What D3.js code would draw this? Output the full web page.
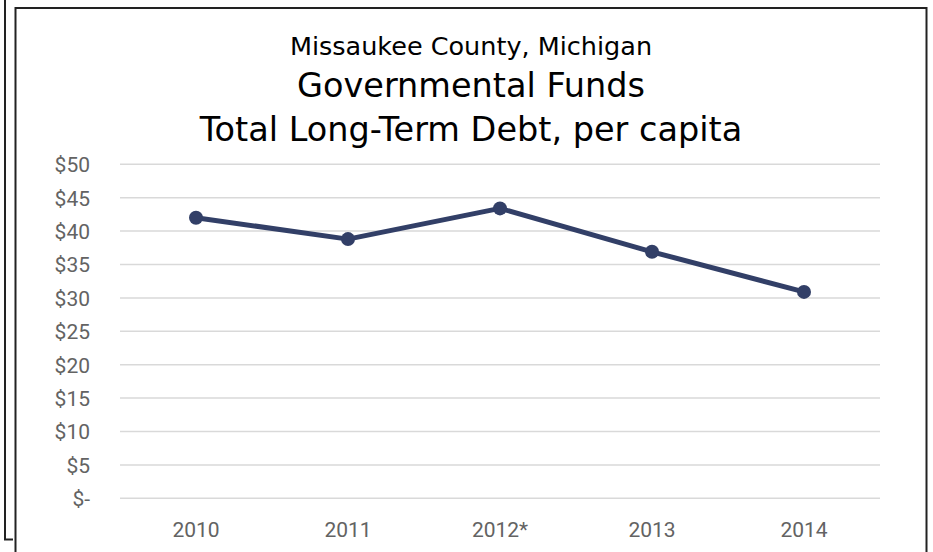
<!DOCTYPE html>
<html>
<head>
<meta charset="utf-8">
<script src="https://cdn.jsdelivr.net/npm/d3@7"></script>
<style>
  body { margin: 0; background: #fff; }
  svg { display: block; }
</style>
</head>
<body>
<div id="chart"></div>
<script>
const years = ["2010", "2011", "2012*", "2013", "2014"];
const debtPerCapita = [42.0, 38.8, 43.4, 36.9, 30.9];
const yTicks = [0, 5, 10, 15, 20, 25, 30, 35, 40, 45, 50];
const titleLines = ["Missaukee County, Michigan", "Governmental Funds", "Total Long-Term Debt, per capita"];

let w = 933;
let h = 552;

let svg = d3
  .select("#chart")
  .append("svg")
  .attr("width", w)
  .attr("height", h);

svg.append("rect").attr("width", w).attr("height", h).attr("fill", "#fff");

// edge of the neighbouring box on the left
svg
  .append("path")
  .attr("d", "M5,0 V539.5 H13")
  .attr("fill", "none")
  .attr("stroke", "#222")
  .attr("stroke-width", 2);

// chart border
svg
  .append("rect")
  .attr("x", 15.5)
  .attr("y", 8)
  .attr("width", 911)
  .attr("height", 560)
  .attr("fill", "#fff")
  .attr("stroke", "#222")
  .attr("stroke-width", 2);

let x = d3.scaleBand().domain(years).range([120, 880]);
let y = d3.scaleLinear().domain([0, 50]).range([498.3, 164.3]);

// gridlines
svg
  .append("g")
  .selectAll("line")
  .data(yTicks)
  .enter()
  .append("line")
  .attr("x1", 120)
  .attr("x2", 880)
  .attr("y1", (d) => y(d))
  .attr("y2", (d) => y(d))
  .attr("stroke", "#d9d9d9")
  .attr("stroke-width", 1.5);

let yAxis = svg
  .append("g")
  .attr("transform", "translate(90,0)")
  .call(
    d3
      .axisLeft(y)
      .tickValues(yTicks)
      .tickSize(0)
      .tickPadding(0)
      .tickFormat((d) => (d === 0 ? "$-" : "$" + d))
  );
yAxis.attr("font-family", "Roboto, sans-serif").attr("font-size", 21);
yAxis.select(".domain").remove();
yAxis.selectAll("text").attr("fill", "#636363").attr("dy", "0.35em");

let xAxis = svg
  .append("g")
  .attr("transform", "translate(0,537)")
  .call(d3.axisBottom(x).tickSize(0).tickPadding(0));
xAxis.attr("font-family", "Roboto, sans-serif").attr("font-size", 21);
xAxis.select(".domain").remove();
xAxis.selectAll("text").attr("fill", "#636363").attr("dy", 0);

let points = years.map((d, i) => ({ year: d, value: debtPerCapita[i] }));

let line = d3
  .line()
  .x((d) => x(d.year) + x.bandwidth() / 2)
  .y((d) => y(d.value));

svg
  .append("path")
  .datum(points)
  .attr("d", line)
  .attr("fill", "none")
  .attr("stroke", "#323f67")
  .attr("stroke-width", 5)
  .attr("stroke-linejoin", "round");

svg
  .append("g")
  .selectAll("circle")
  .data(points)
  .enter()
  .append("circle")
  .attr("cx", (d) => x(d.year) + x.bandwidth() / 2)
  .attr("cy", (d) => y(d.value))
  .attr("r", 7)
  .attr("fill", "#323f67");

// title
let title = svg
  .append("text")
  .attr("text-anchor", "middle")
  .attr("fill", "#000")
  .style("font-family", "'DejaVu Sans', Verdana, sans-serif");

title
  .append("tspan")
  .attr("x", 471)
  .attr("y", 55)
  .style("font-size", "25.5px")
  .text(titleLines[0]);
title
  .append("tspan")
  .attr("x", 471)
  .attr("y", 97)
  .style("font-size", "33.5px")
  .text(titleLines[1]);
title
  .append("tspan")
  .attr("x", 471)
  .attr("y", 141)
  .style("font-size", "33.5px")
  .text(titleLines[2]);
</script>
</body>
</html>
